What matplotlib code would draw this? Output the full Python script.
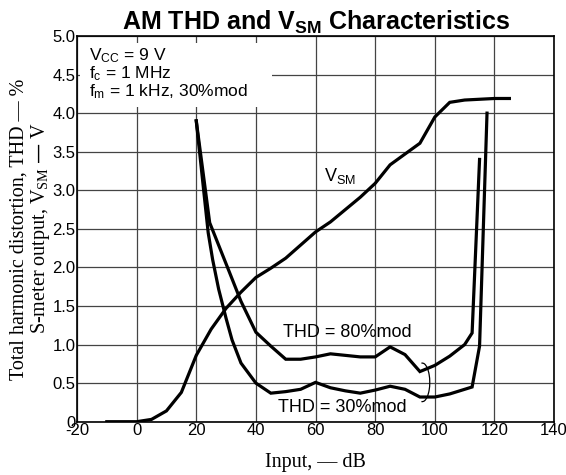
import matplotlib
matplotlib.use("Agg")
from matplotlib import pyplot as plt
from matplotlib.patches import Rectangle, Arc

# data
vsm_x = [-10, 0, 5, 10, 15, 20, 25, 30, 35, 40, 45, 50, 55, 60, 65, 70,
         75, 80, 85, 90, 95, 100, 105, 110, 115, 120, 125]
vsm_y = [0, 0, 0.03, 0.14, 0.38, 0.86, 1.2, 1.47, 1.68, 1.87, 1.99, 2.12,
         2.29, 2.46, 2.59, 2.75, 2.91, 3.09, 3.33, 3.47, 3.61, 3.95, 4.14,
         4.17, 4.18, 4.19, 4.19]

thd30_x = [20, 24, 25.5, 27.5, 30, 32, 35, 40, 45, 50, 55, 60, 65, 70, 75,
           80, 85, 90, 95, 100, 105, 112.5, 115, 117.5]
thd30_y = [3.9, 2.45, 2.1, 1.72, 1.34, 1.06, 0.76, 0.5, 0.37, 0.39, 0.42,
           0.51, 0.44, 0.4, 0.37, 0.41, 0.46, 0.42, 0.32, 0.32, 0.36, 0.45,
           0.98, 4.0]

thd80_x = [20, 24.5, 31, 35, 40, 45, 50, 55, 60, 65, 70, 75, 80, 85, 90,
           95, 100, 105, 110, 112.5, 115]
thd80_y = [3.9, 2.58, 1.95, 1.56, 1.16, 0.98, 0.81, 0.81, 0.84, 0.88, 0.86,
           0.84, 0.84, 0.97, 0.87, 0.65, 0.73, 0.85, 1.0, 1.15, 3.4]

x_ticks = [-20, 0, 20, 40, 60, 80, 100, 120, 140]
y_ticks = [0, 0.5, 1.0, 1.5, 2.0, 2.5, 3.0, 3.5, 4.0, 4.5, 5.0]
y_labels = ['0', '0.5', '1.0', '1.5', '2.0', '2.5', '3.0', '3.5', '4.0',
            '4.5', '5.0']

plt.rcParams['font.family'] = ['Liberation Sans', 'DejaVu Sans']
plt.rcParams['axes.unicode_minus'] = False

fig = plt.figure(figsize=(5.66, 4.75), dpi=100)
ax = fig.add_axes([0.136, 0.1122, 0.843, 0.812])

ax.plot(vsm_x, vsm_y, color='black', lw=2.3, solid_joinstyle='miter', zorder=3)
ax.plot(thd30_x, thd30_y, color='black', lw=2.3, solid_joinstyle='miter', zorder=3)
ax.plot(thd80_x, thd80_y, color='black', lw=2.3, solid_joinstyle='miter', zorder=3)

ax.set_xlim(-20, 140)
ax.set_ylim(0, 5)
ax.set_xticks(x_ticks)
ax.set_yticks(y_ticks)
ax.set_yticklabels(y_labels)
ax.tick_params(length=0, labelsize=12, pad=1)
ax.grid(True, color='#444444', lw=0.9)
ax.set_axisbelow(True)
for s in ax.spines.values():
    s.set_linewidth(1.2)

# white box behind the conditions text
ax.add_patch(Rectangle((-19, 4.08), 64.4, 0.83, facecolor='white',
                       edgecolor='none', zorder=1))
ax.text(-16, 4.74, r'$\mathregular{V_{CC}}$ = 9 V', fontsize=12.5, va='center', zorder=4)
ax.text(-16, 4.51, r'$\mathregular{f_{c}}$ = 1 MHz', fontsize=12.5, va='center', zorder=4)
ax.text(-16, 4.28, r'$\mathregular{f_{m}}$ = 1 kHz, 30%mod', fontsize=12.5,
        va='center', zorder=4)

ax.text(62.7, 3.18, r'$\mathregular{V_{SM}}$', fontsize=13, va='center')
ax.text(49, 1.15, 'THD = 80%mod', fontsize=13, va='center')
ax.text(47.5, 0.19, 'THD = 30%mod', fontsize=13, va='center')

ax.add_patch(Arc((95.8, 0.51), 5.0, 0.5, theta1=-140, theta2=140,
                 color='black', lw=0.9, zorder=4))

ax.set_title(r'AM THD and $\mathregular{V_{SM}}$ Characteristics',
             fontsize=18, fontweight='bold', pad=4)

fig.text(0.557, 0.027, 'Input, — dB', family='Liberation Serif',
         fontsize=14.5, ha='center', va='center')
fig.text(0.034, 0.517, 'Total harmonic distortion, THD — %',
         family='Liberation Serif', fontsize=14.5, rotation=90,
         ha='center', va='center')
fig.text(0.071, 0.52, r'S-meter output, $\mathregular{V_{SM}}$ — V',
         family='Liberation Serif', fontsize=14.5, rotation=90,
         ha='center', va='center')

fig.savefig('out.png', dpi=100)
